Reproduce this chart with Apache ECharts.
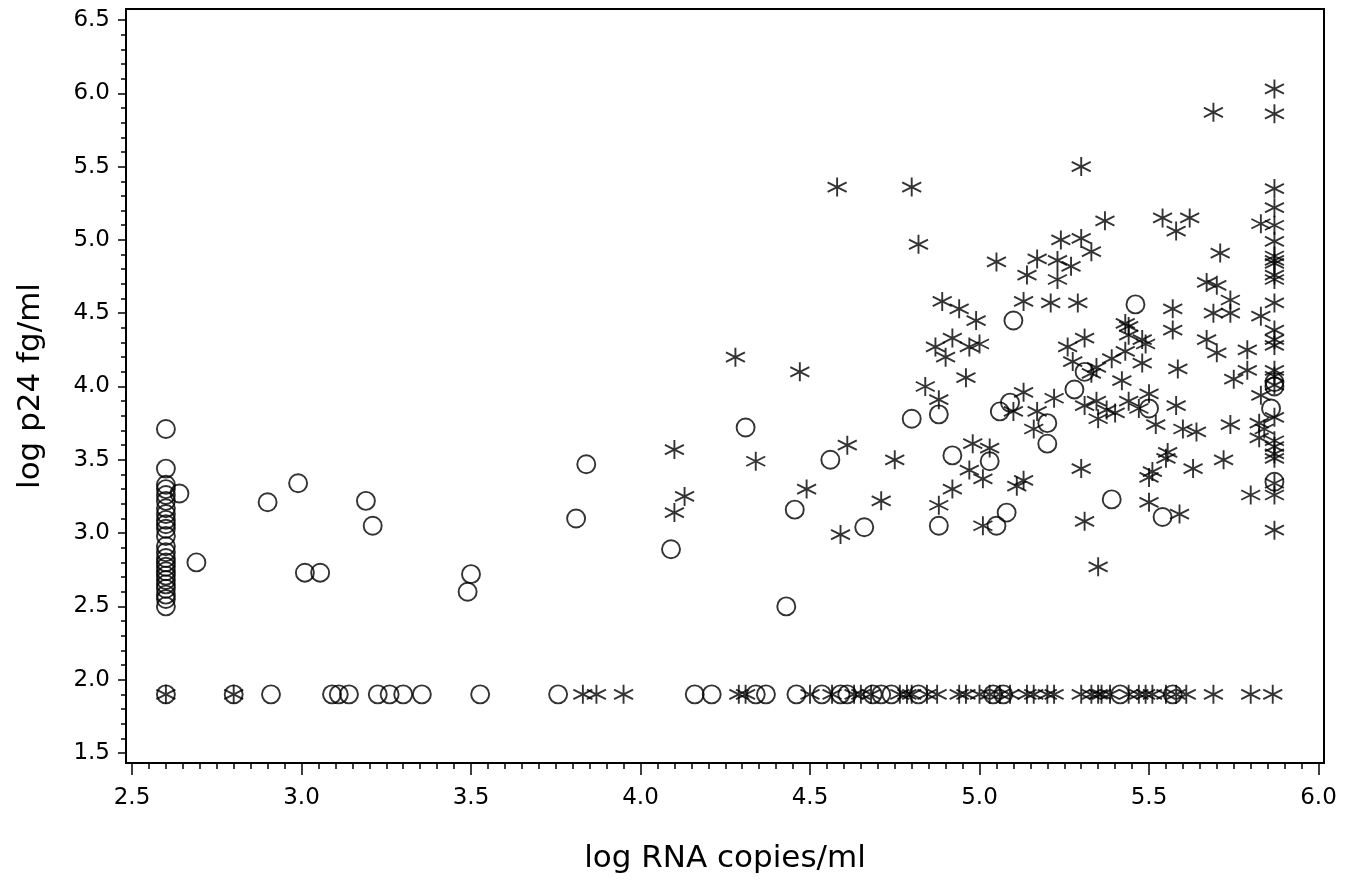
<!DOCTYPE html>
<html>
<head>
<meta charset="utf-8">
<title>log p24 vs log RNA</title>
<script src="https://cdn.jsdelivr.net/npm/echarts@6/dist/echarts.min.js"></script>
<style>
  html, body { margin: 0; padding: 0; background: #fff; }
  #chart { width: 1353px; height: 886px; }
</style>
</head>
<body>
<div id="chart"></div>
<script>
  // tick labels
  const xTicks = [2.5, 3.0, 3.5, 4.0, 4.5, 5.0, 5.5, 6.0]
  const yTicks = [1.5, 2.0, 2.5, 3.0, 3.5, 4.0, 4.5, 5.0, 5.5, 6.0, 6.5]

  // undetectable p24 plotted on one floor value
  const floorY = 1.9
  const circleFloorX = [2.60, 2.80, 2.91, 3.09, 3.11, 3.14, 3.225, 3.26, 3.30, 3.355, 3.527, 3.757,
    4.16, 4.21, 4.34, 4.37, 4.46, 4.535, 4.59, 4.61, 4.685, 4.71, 4.74, 4.82, 5.04, 5.07, 5.415, 5.57]
  const starFloorX = [2.60, 2.80, 3.83, 3.87, 3.95, 4.29, 4.31, 4.50, 4.565, 4.63, 4.65, 4.68, 4.765,
    4.786, 4.80, 4.845, 4.875, 4.94, 4.96, 5.00, 5.03, 5.06, 5.09, 5.14, 5.16, 5.20, 5.22, 5.30, 5.33,
    5.35, 5.36, 5.385, 5.44, 5.47, 5.49, 5.51, 5.55, 5.58, 5.61, 5.69, 5.80, 5.865]

  // lowest RNA value column (circles) and highest RNA value column (asterisks)
  const lowRnaX = 2.60
  const circleLowRnaY = [3.71, 3.44, 3.33, 3.30, 3.26, 3.22, 3.17, 3.13, 3.09, 3.06, 3.03, 2.98, 2.91,
    2.87, 2.83, 2.80, 2.77, 2.74, 2.71, 2.68, 2.65, 2.62, 2.58, 2.55, 2.50]
  const highRnaX = 5.87
  const starHighRnaY = [6.03, 5.86, 5.35, 5.22, 5.10, 4.99, 4.89, 4.86, 4.84, 4.76, 4.73, 4.57, 4.385,
    4.32, 4.28, 4.11, 4.07, 4.01, 3.79, 3.63, 3.59, 3.54, 3.51, 3.34, 3.26, 3.02]

  // remaining points [log RNA, log p24]
  const circlePoints = [
    [2.64, 3.27], [2.69, 2.80], [2.90, 3.21], [2.99, 3.34], [3.01, 2.73], [3.055, 2.73], [3.19, 3.22],
    [3.21, 3.05], [3.50, 2.72], [3.49, 2.60], [3.84, 3.47], [3.81, 3.10], [4.09, 2.89], [4.31, 3.72],
    [4.43, 2.50], [4.455, 3.16], [4.56, 3.50], [4.66, 3.04], [4.80, 3.78], [4.88, 3.81], [4.88, 3.05],
    [4.92, 3.53], [5.03, 3.49], [5.05, 3.05], [5.06, 3.83], [5.09, 3.89], [5.08, 3.14], [5.10, 4.45],
    [5.20, 3.75], [5.20, 3.61], [5.28, 3.98], [5.31, 4.10], [5.39, 3.23], [5.46, 4.56], [5.50, 3.85],
    [5.54, 3.11], [5.87, 4.03], [5.87, 4.00], [5.86, 3.85], [5.87, 3.35]
  ]
  const starPoints = [
    [4.10, 3.57], [4.13, 3.25], [4.10, 3.14], [4.28, 4.20], [4.34, 3.49], [4.47, 4.10], [4.49, 3.30],
    [4.58, 5.36], [4.61, 3.60], [4.59, 2.99], [4.71, 3.22], [4.75, 3.50], [4.80, 5.36], [4.82, 4.97],
    [5.30, 5.50], [5.24, 5.00], [5.30, 5.01], [5.33, 4.92], [5.05, 4.85], [5.17, 4.87], [5.23, 4.86],
    [5.27, 4.82], [5.14, 4.76], [5.23, 4.73], [4.89, 4.58], [4.94, 4.53], [4.99, 4.45], [5.13, 4.58],
    [5.21, 4.57], [5.29, 4.57], [4.92, 4.33], [4.87, 4.27], [4.90, 4.20], [4.97, 4.27], [5.00, 4.29],
    [5.31, 4.33], [5.26, 4.27], [5.275, 4.17], [4.96, 4.06], [4.84, 4.00], [4.88, 3.91], [5.13, 3.96],
    [5.22, 3.92], [5.10, 3.83], [5.17, 3.83], [5.16, 3.71], [5.33, 4.09], [5.31, 3.87], [4.98, 3.61],
    [5.03, 3.58], [4.97, 3.43], [5.01, 3.37], [5.13, 3.36], [5.11, 3.32], [4.92, 3.30], [4.88, 3.19],
    [5.01, 3.05], [5.30, 3.44], [5.31, 3.08], [5.35, 2.77],
    [5.69, 5.87], [5.37, 5.13], [5.54, 5.15], [5.58, 5.06], [5.62, 5.15], [5.83, 5.11], [5.71, 4.91],
    [5.67, 4.71], [5.70, 4.69], [5.74, 4.59], [5.69, 4.50], [5.74, 4.50], [5.57, 4.53], [5.57, 4.385],
    [5.83, 4.48], [5.43, 4.43], [5.44, 4.41], [5.44, 4.35], [5.48, 4.32], [5.49, 4.29], [5.67, 4.32],
    [5.70, 4.23], [5.79, 4.25], [5.43, 4.24], [5.39, 4.19], [5.345, 4.13], [5.48, 4.16], [5.585, 4.12],
    [5.79, 4.11], [5.75, 4.05], [5.42, 4.04], [5.50, 3.95], [5.58, 3.87], [5.44, 3.90], [5.47, 3.85],
    [5.345, 3.90], [5.375, 3.84], [5.40, 3.82], [5.35, 3.78], [5.83, 3.94], [5.825, 3.75], [5.84, 3.71],
    [5.825, 3.65], [5.74, 3.74], [5.64, 3.69], [5.60, 3.71], [5.52, 3.74], [5.555, 3.55], [5.55, 3.51],
    [5.72, 3.50], [5.63, 3.44], [5.51, 3.42], [5.50, 3.38], [5.50, 3.21], [5.59, 3.13], [5.80, 3.26]
  ]

  const circleData = circleFloorX.map(x => [x, floorY])
    .concat(circleLowRnaY.map(y => [lowRnaX, y]))
    .concat(circlePoints)
  const starData = starFloorX.map(x => [x, floorY])
    .concat(starHighRnaY.map(y => [highRnaX, y]))
    .concat(starPoints)

  // minor tick positions (axis decoration only)
  const xMinor = []
  for (let i = 0; i <= 70; i++) xMinor.push(+(2.5 + i * 0.05).toFixed(2))
  const yMinor = []
  for (let i = 0; i <= 50; i++) yMinor.push(+(1.5 + i * 0.1).toFixed(1))

  const font = 'DejaVu Sans, Verdana, sans-serif'
  const xRange = { min: 2.4823, max: 6.0162 }
  const yRange = { min: 1.4318, max: 6.575 }

  const chart = echarts.init(document.getElementById('chart'))
  chart.setOption({
    animation: false,
    backgroundColor: '#fff',
    grid: {
      left: 126, top: 9, right: 29, bottom: 123,
      show: true, borderColor: '#000', borderWidth: 2
    },
    xAxis: [{
      type: 'value', position: 'bottom', ...xRange,
      axisLine: { show: false },
      splitLine: { show: false },
      axisTick: { show: true, length: 12, customValues: xTicks, lineStyle: { color: '#000', width: 1.5 } },
      axisLabel: {
        customValues: xTicks, margin: 24, color: '#000', fontSize: 23, fontFamily: font,
        formatter: v => v.toFixed(1)
      },
      name: 'log RNA copies/ml', nameLocation: 'middle', nameGap: 80,
      nameTextStyle: { color: '#000', fontSize: 31, fontFamily: font }
    }, {
      type: 'value', position: 'bottom', offset: 0, ...xRange,
      axisLine: { show: false },
      splitLine: { show: false },
      axisTick: { show: true, length: 6, customValues: xMinor, lineStyle: { color: '#000', width: 1.5 } },
      axisLabel: { show: false }
    }],
    yAxis: [{
      type: 'value', position: 'left', ...yRange,
      axisLine: { show: false },
      splitLine: { show: false },
      axisTick: { show: true, length: 8, customValues: yTicks, lineStyle: { color: '#000', width: 1.5 } },
      axisLabel: {
        customValues: yTicks, margin: 16, color: '#000', fontSize: 23, fontFamily: font,
        formatter: v => v.toFixed(1)
      },
      name: 'log p24 fg/ml', nameLocation: 'middle', nameGap: 80, nameRotate: 90,
      nameTextStyle: { color: '#000', fontSize: 31, fontFamily: font }
    }, {
      type: 'value', position: 'left', offset: 0, ...yRange,
      axisLine: { show: false },
      splitLine: { show: false },
      axisTick: { show: true, length: 5, customValues: yMinor, lineStyle: { color: '#000', width: 1.5 } },
      axisLabel: { show: false }
    }],
    series: [{
      name: 'circle',
      type: 'scatter',
      xAxisIndex: 0, yAxisIndex: 0,
      symbol: 'circle',
      symbolSize: 18,
      itemStyle: { color: 'rgba(0,0,0,0)', borderColor: '#000', borderWidth: 1.9 },
      data: circleData
    }, {
      name: 'asterisk',
      type: 'scatter',
      xAxisIndex: 0, yAxisIndex: 0,
      symbol: 'path://M10,0L10,20M0,5L20,15M0,15L20,5',
      symbolSize: [19, 19],
      itemStyle: { color: 'rgba(0,0,0,0)', borderColor: '#000', borderWidth: 1.9 },
      data: starData
    }]
  })
</script>
</body>
</html>
